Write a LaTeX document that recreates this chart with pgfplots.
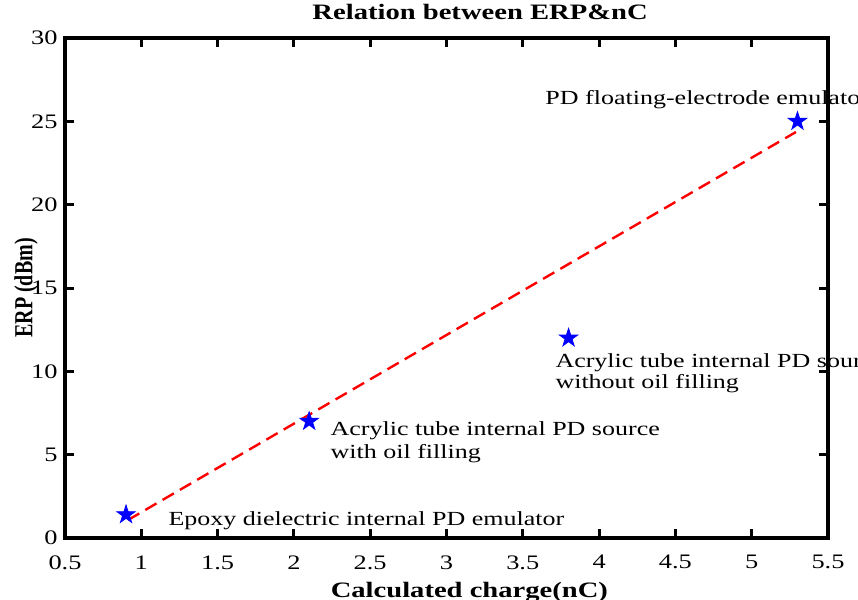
\documentclass[border=0pt]{standalone}
\usepackage{pgfplots}
\pgfplotsset{compat=1.18}
\usepackage{fontspec}
\setmainfont{Liberation Serif}

% filled five-pointed star, like MATLAB's pentagram
\pgfdeclareplotmark{pentastar}{%
  \pgfpathmoveto{\pgfpointpolar{90}{\pgfplotmarksize}}%
  \pgfpathlineto{\pgfpointpolar{126}{0.382\pgfplotmarksize}}%
  \pgfpathlineto{\pgfpointpolar{162}{\pgfplotmarksize}}%
  \pgfpathlineto{\pgfpointpolar{198}{0.382\pgfplotmarksize}}%
  \pgfpathlineto{\pgfpointpolar{234}{\pgfplotmarksize}}%
  \pgfpathlineto{\pgfpointpolar{270}{0.382\pgfplotmarksize}}%
  \pgfpathlineto{\pgfpointpolar{306}{\pgfplotmarksize}}%
  \pgfpathlineto{\pgfpointpolar{342}{0.382\pgfplotmarksize}}%
  \pgfpathlineto{\pgfpointpolar{18}{\pgfplotmarksize}}%
  \pgfpathlineto{\pgfpointpolar{54}{0.382\pgfplotmarksize}}%
  \pgfpathclose
  \pgfusepathqfillstroke}

\begin{document}
\begin{tikzpicture}
\tikzset{lbl/.style={inner sep=0pt, font=\fontsize{10}{12}\selectfont, xscale=1.3}}
% page = 858x600 px, 1px = 0.5pt, axis box at px (65..828, 38..538)
\clip (-32.5pt,-31pt) rectangle (396.5pt,269pt);
\begin{axis}[
    at={(0,0)}, anchor=south west,
    scale only axis,
    width=381.5pt, height=250pt,
    xmin=0.5, xmax=5.5,
    ymin=0, ymax=30,
    xtick={0.5,1,1.5,2,2.5,3,3.5,4,4.5,5,5.5},
    ytick={0,5,10,15,20,25,30},
    xtick pos=both, ytick pos=both,
    xticklabel pos=lower, yticklabel pos=left,
    tick align=inside,
    major tick length=4.5pt,
    every tick/.style={black, line width=1.5pt},
    axis line style={line width=1.6pt},
    axis on top,
    clip=false,
    tick label style={font=\fontsize{10.3}{12}\selectfont, /pgf/number format/assume math mode=true},
    xticklabel style={inner sep=0pt, anchor=north, yshift=-8.5pt, xscale=1.28},
    yticklabel style={inner sep=0pt, anchor=east, xshift=-3.5pt, xscale=1.28},
    title={Relation between ERP\&nC},
    title style={at={(axis description cs:0.544,1)}, anchor=base, yshift=3.5pt,
        inner sep=0pt, font=\bfseries\fontsize{11}{13}\selectfont, xscale=1.3},
    xlabel={Calculated charge(nC)},
    xlabel style={at={(axis description cs:0.53,0)}, anchor=base, yshift=-29.5pt,
        inner sep=0pt, font=\bfseries\fontsize{11}{13}\selectfont, xscale=1.3},
    ylabel={ERP (dBm)},
    ylabel style={at={(axis description cs:-0.0511,0.5)}, anchor=center,
        inner sep=0pt, font=\bfseries\fontsize{10}{12}\selectfont, yscale=1.3},
]
    % fitted trend line
    \addplot[red, line width=1.2pt, dash pattern=on 6.5pt off 3.5pt] coordinates {
        (0.913, 1.08) (5.29, 24.36)
    };
    % measured sources
    \addplot[only marks, mark=pentastar, mark size=4.8pt, blue, fill=blue] coordinates {
        (0.9, 1.4) (2.1, 7) (3.8, 12) (5.3, 25)
    };
    \node[lbl, anchor=base west] at (axis cs:3.645,25.98) {PD floating-electrode emulator};
    \node[lbl, anchor=base west] at (axis cs:3.711,10.26) {Acrylic tube internal PD source};
    \node[lbl, anchor=base west] at (axis cs:3.711,9.0) {without oil filling};
    \node[lbl, anchor=base west] at (axis cs:2.237,6.18) {Acrylic tube internal PD source};
    \node[lbl, anchor=base west] at (axis cs:2.237,4.8) {with oil filling};
    \node[lbl, anchor=base west] at (axis cs:1.175,0.78) {Epoxy dielectric internal PD emulator};
\end{axis}
\end{tikzpicture}
\end{document}
